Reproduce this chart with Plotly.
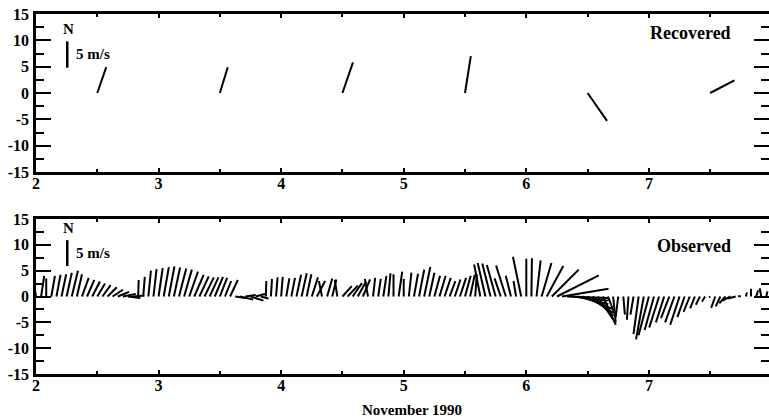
import plotly.graph_objects as go

# ---------------- data ----------------
# Recovered winds (6 values, one per day at x.5)
rec_time = [2.5, 3.5, 4.5, 5.5, 6.5, 7.5]
rec_u = [1.7, 1.5, 2.0, 1.1, 3.7, 4.6]
rec_v = [4.9, 4.9, 5.8, 7.0, -5.3, 2.4]

# Observed winds, hourly from 2 Nov 00:00
obs_hour = list(range(144))
obs_u = [-0.8, 0.6, 0.0, 0.7, 0.8, 0.9, 1.0, 1.2, 1.0, 1.3, 1.4, 1.5, 1.5, 1.6, 1.8, 2.0,
         2.2, 2.5, 2.4, 2.2, 0.1, 0.3, 0.5, 0.6, 0.8, 1.0, 1.1, 1.2, 1.4, 1.5, 1.7, 1.8,
         1.8, 1.8, 1.7, 1.6, 1.4, 1.2, 1.5, 2.0, 2.5, 2.0, 2.5, 1.8, 1.5, 0.1, 0.2, 0.3,
         0.3, 0.6, 0.7, 0.9, 1.0, 0.9, 1.2, 1.6, -0.6, 1.0, 0.8, -0.5, 1.8, 2.0, 1.8, 1.6,
         1.4, -0.6, 0.4, 0.5, 0.6, 0.4, 0.0, 0.7, 0.0, 0.5, 0.8, 1.0, 1.2, 1.0, 1.1, 1.2,
         1.2, 1.1, 1.1, 1.2, 1.1, 0.9, 0.3, -1.2, -1.5, -1.6, -1.7, -1.2, -1.9, -1.0, -0.5, -1.6,
         0.0, 0.1, 0.8, 1.9, 3.2, 5.2, 8.1, 9.0, 8.0, 7.0, 6.0, 6.0, 5.0, 4.0, 3.0, 2.5,
         1.5, 0.5, -0.5, 0.3, -0.3, -0.6, -1.0, -1.5, -2.0, -1.8, -1.9, -1.6, -1.6, -1.8, -1.8, -1.4,
         -1.2, -0.9, -0.8, -0.6, -0.2, -0.8, -0.9, -1.2, -1.6, -1.5, -0.5, 0.2, 0.0, 0.4, -0.3, 0.2]
obs_v = [4.5, 4.0, 3.5, 4.0, 4.2, 4.3, 4.6, 5.0, 4.3, 3.6, 3.2, 2.9, 2.5, 2.2, 1.8, 1.3,
         0.9, 0.5, -0.3, 0.2, 3.2, 3.8, 5.0, 5.3, 5.5, 5.7, 5.8, 5.6, 5.4, 5.2, 4.8, 4.2,
         3.9, 3.7, 3.7, 3.8, 3.6, 3.0, 3.2, -0.3, -0.6, 0.3, -0.8, 0.5, -0.4, 3.0, 3.4, 3.7,
         3.8, 3.5, 3.6, 4.2, 4.5, 4.3, 3.7, 3.0, 3.0, 3.5, 3.3, 3.2, 2.0, 2.1, 2.6, 2.9,
         3.3, 3.4, 3.6, 3.4, 4.0, 4.5, 4.3, 4.8, 3.4, 4.6, 4.4, 5.2, 5.7, 4.6, 4.0, 4.0,
         3.6, 3.0, 3.3, 3.6, 4.0, 4.2, 4.3, 6.2, 6.5, 6.4, 6.1, 3.5, 6.0, 4.0, 3.0, 7.7,
         7.3, 7.4, 7.0, 6.5, 5.9, 5.2, 4.1, 1.5, -0.3, -0.8, -1.5, -2.5, -3.2, -3.8, -4.5, -5.5,
         -4.0, -5.0, -4.0, -3.5, -4.5, -3.5, -7.3, -8.3, -7.5, -6.5, -6.0, -5.0, -4.2, -5.0, -5.5, -4.0,
         -3.0, -2.3, -1.6, -1.0, -0.2, -2.2, -1.9, -1.3, -0.8, -0.4, 0.1, 0.8, 1.5, 1.2, 1.6, 1.0]

y_ticks = [-15, -10, -5, 0, 5, 10, 15]
y_ticktext = ["-15", "-10", "-5", "0", "5", "10", "15"]
x_ticks = [2, 3, 4, 5, 6, 7]
scale_speed = 5  # m/s reference bar

# ---------------- layout geometry ----------------
W, H = 769, 420
ML = 36
X_RANGE = [2, 7.98]
TOP_DOM = [1 - 172 / H, 1 - 14 / H]
BOT_DOM = [1 - 374 / H, 1 - 219 / H]

px_per_day = (W - ML) / (X_RANGE[1] - X_RANGE[0])


def stick_xy(times, us, vs, dom):
    px_per_unit = (dom[1] - dom[0]) * H / 30.0
    s = px_per_unit / px_per_day  # days per m/s so sticks keep true direction
    xs, ys = [], []
    for t, u, v in zip(times, us, vs):
        xs += [t, t + u * s, None]
        ys += [0, v, None]
    return xs, ys


obs_time = [2 + h / 24 for h in obs_hour]

fig = go.Figure()
xr, yr = stick_xy(rec_time, rec_u, rec_v, TOP_DOM)
fig.add_trace(go.Scatter(x=xr, y=yr, mode="lines", line=dict(color="black", width=2),
                         xaxis="x", yaxis="y", showlegend=False, hoverinfo="skip"))
xo, yo = stick_xy(obs_time, obs_u, obs_v, BOT_DOM)
fig.add_trace(go.Scatter(x=xo, y=yo, mode="lines", line=dict(color="black", width=2),
                         xaxis="x2", yaxis="y2", showlegend=False, hoverinfo="skip"))

FONT = "Liberation Serif, Times New Roman, serif"
tickfont = dict(family=FONT, size=16, color="black", weight="bold")


def xaxis_cfg(anchor):
    return dict(range=X_RANGE, domain=[0, 1], anchor=anchor, showline=True, linewidth=2.5,
                linecolor="black", mirror="ticks", ticks="inside", ticklen=4, tickwidth=1.5,
                tickcolor="black", tickmode="array", tickvals=x_ticks, tickfont=tickfont,
                showgrid=False, zeroline=False, ticklabelstandoff=-5, automargin=False,
                minor=dict(ticks="inside", dtick=0.5, tick0=2, ticklen=3, tickwidth=1.5,
                           tickcolor="black", showgrid=False))


def yaxis_cfg(anchor, dom):
    return dict(range=[-15, 15], domain=dom, anchor=anchor, showline=True, linewidth=2.5,
                linecolor="black", mirror="ticks", ticks="inside", ticklen=15, tickwidth=2,
                tickcolor="black", tickmode="array", tickvals=y_ticks, ticktext=y_ticktext,
                tickfont=tickfont, showgrid=False, zeroline=False, ticklabelstandoff=1,
                automargin=False,
                minor=dict(ticks="inside", dtick=2.5, tick0=0, ticklen=8, tickwidth=2,
                           tickcolor="black", showgrid=False))


fig.update_layout(
    width=W, height=H, margin=dict(l=ML, r=0, t=0, b=0, pad=0, autoexpand=False),
    paper_bgcolor="white", plot_bgcolor="white",
    xaxis=xaxis_cfg("y"), yaxis=yaxis_cfg("x", TOP_DOM),
    xaxis2=xaxis_cfg("y2"), yaxis2=yaxis_cfg("x2", BOT_DOM),
)

lab = dict(family=FONT, size=15, color="black", weight="bold")
big = dict(family=FONT, size=18, color="black", weight="bold")
ann = []
shapes = []
for xa, ya, ny, b0, txt, ty, name_y in [("x", "y", 12.2, 4.8, "Recovered", 11.4, 7.4),
                                        ("x2", "y2", 13.2, 5.9, "Observed", 9.8, 8.4)]:
    ann.append(dict(x=2.262, y=ny, xref=xa, yref=ya, text="N", showarrow=False, font=lab))
    ann.append(dict(x=2.31, y=name_y, xref=xa, yref=ya, text="5 m/s", showarrow=False,
                    font=lab, xanchor="left"))
    ann.append(dict(x=7.69, y=ty, xref=xa, yref=ya, text=txt, showarrow=False, font=big,
                    xanchor="right"))
    shapes.append(dict(type="line", xref=xa, yref=ya, x0=2.255, x1=2.255, y0=b0,
                       y1=b0 + scale_speed, line=dict(color="black", width=2.5)))
ann.append(dict(x=(411.7 - ML) / (W - ML), y=1 - 410 / H, xref="paper", yref="paper",
                yanchor="middle", text="November 1990", showarrow=False, font=lab))
fig.update_layout(annotations=ann, shapes=shapes)

fig.write_html("out.html")
